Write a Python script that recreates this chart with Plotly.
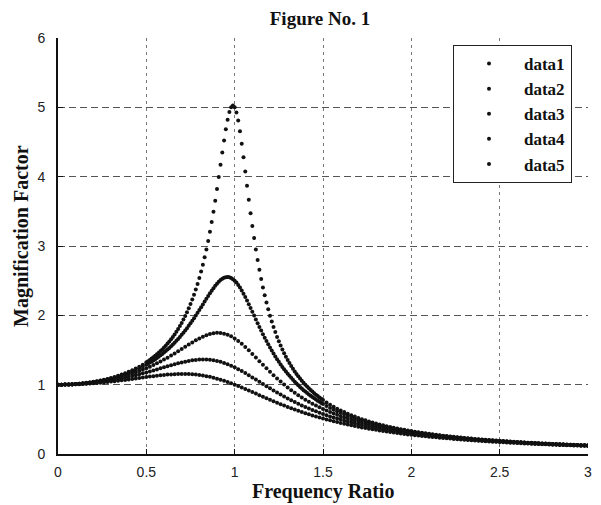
import plotly.graph_objects as go

# ---- sampling grids (frequency ratio) ----
ratio_fine = ([round(0.02 * i, 2) for i in range(26)]
              + [round(0.51 + 0.01 * i, 2) for i in range(100)]
              + [round(1.52 + 0.02 * i, 2) for i in range(75)])
ratio_coarse = [round(0.02 * i, 2) for i in range(151)]

# ---- magnification factor ----
data1 = [
    1.000, 1.000, 1.002, 1.004, 1.006, 1.010, 1.014, 1.020, 1.026, 1.033,
    1.041, 1.050, 1.060, 1.071, 1.083, 1.097, 1.111, 1.127, 1.145, 1.164,
    1.185, 1.208, 1.233, 1.260, 1.289, 1.322,
    1.339, 1.357, 1.376, 1.396, 1.416, 1.438, 1.461, 1.484, 1.509, 1.536,
    1.563, 1.592, 1.623, 1.655, 1.689, 1.725, 1.763, 1.803, 1.846, 1.891,
    1.939, 1.989, 2.043, 2.101, 2.162, 2.228, 2.298, 2.372, 2.452, 2.538,
    2.631, 2.730, 2.836, 2.950, 3.073, 3.204, 3.345, 3.495, 3.654, 3.821,
    3.994, 4.172, 4.350, 4.522, 4.683, 4.822, 4.931, 5.001, 5.025, 5.000,
    4.926, 4.809, 4.655, 4.476, 4.279, 4.075, 3.869, 3.668, 3.473, 3.288,
    3.114, 2.950, 2.798, 2.656, 2.525, 2.402, 2.289, 2.184, 2.086, 1.995,
    1.911, 1.832, 1.758, 1.689, 1.625, 1.564, 1.507, 1.454, 1.404, 1.356,
    1.311, 1.269, 1.229, 1.191, 1.155, 1.121, 1.088, 1.058, 1.028, 1.000,
    0.973, 0.948, 0.923, 0.900, 0.877, 0.856, 0.835, 0.815, 0.796, 0.778,
    0.743, 0.711, 0.682, 0.654, 0.628, 0.604, 0.581, 0.560, 0.540, 0.521,
    0.503, 0.486, 0.470, 0.455, 0.441, 0.427, 0.414, 0.402, 0.390, 0.379,
    0.369, 0.358, 0.349, 0.339, 0.330, 0.322, 0.314, 0.306, 0.298, 0.291,
    0.284, 0.277, 0.271, 0.265, 0.259, 0.253, 0.247, 0.242, 0.237, 0.232,
    0.227, 0.222, 0.218, 0.213, 0.209, 0.205, 0.201, 0.197, 0.193, 0.190,
    0.186, 0.183, 0.179, 0.176, 0.173, 0.170, 0.167, 0.164, 0.161, 0.158,
    0.156, 0.153, 0.151, 0.148, 0.146, 0.143, 0.141, 0.139, 0.137, 0.135,
    0.132, 0.130, 0.128, 0.127, 0.125,
]

data2 = [
    1.000, 1.000, 1.002, 1.003, 1.006, 1.009, 1.013, 1.018, 1.024, 1.031,
    1.038, 1.046, 1.056, 1.066, 1.077, 1.089, 1.103, 1.118, 1.133, 1.151,
    1.169, 1.190, 1.212, 1.235, 1.261, 1.288,
    1.303, 1.318, 1.334, 1.350, 1.367, 1.385, 1.403, 1.423, 1.442, 1.463,
    1.484, 1.507, 1.530, 1.554, 1.579, 1.605, 1.632, 1.660, 1.689, 1.719,
    1.750, 1.782, 1.815, 1.850, 1.885, 1.922, 1.959, 1.997, 2.036, 2.076,
    2.116, 2.157, 2.198, 2.238, 2.279, 2.318, 2.356, 2.392, 2.426, 2.457,
    2.484, 2.508, 2.527, 2.541, 2.549, 2.552, 2.548, 2.538, 2.522, 2.500,
    2.472, 2.439, 2.401, 2.359, 2.313, 2.264, 2.213, 2.160, 2.106, 2.051,
    1.996, 1.941, 1.887, 1.833, 1.780, 1.728, 1.678, 1.629, 1.582, 1.536,
    1.491, 1.448, 1.407, 1.367, 1.329, 1.292, 1.256, 1.222, 1.189, 1.157,
    1.127, 1.098, 1.070, 1.042, 1.016, 0.991, 0.967, 0.944, 0.921, 0.900,
    0.879, 0.859, 0.839, 0.821, 0.803, 0.785, 0.768, 0.752, 0.736, 0.721,
    0.692, 0.665, 0.640, 0.616, 0.593, 0.572, 0.552, 0.533, 0.515, 0.498,
    0.482, 0.466, 0.452, 0.438, 0.425, 0.412, 0.401, 0.389, 0.378, 0.368,
    0.358, 0.348, 0.339, 0.330, 0.322, 0.314, 0.306, 0.299, 0.292, 0.285,
    0.278, 0.272, 0.266, 0.260, 0.254, 0.248, 0.243, 0.238, 0.233, 0.228,
    0.223, 0.219, 0.214, 0.210, 0.206, 0.202, 0.198, 0.194, 0.191, 0.187,
    0.184, 0.180, 0.177, 0.174, 0.171, 0.168, 0.165, 0.162, 0.159, 0.157,
    0.154, 0.152, 0.149, 0.147, 0.144, 0.142, 0.140, 0.138, 0.135, 0.133,
    0.131, 0.129, 0.127, 0.125, 0.124,
]

data3 = [
    1.000, 1.000, 1.001, 1.003, 1.005, 1.008, 1.012, 1.016, 1.021, 1.027,
    1.034, 1.041, 1.049, 1.058, 1.067, 1.078, 1.089, 1.102, 1.115, 1.129,
    1.145, 1.161, 1.179, 1.197, 1.217, 1.238, 1.260, 1.284, 1.309, 1.335,
    1.362, 1.390, 1.420, 1.450, 1.482, 1.514, 1.546, 1.578, 1.609, 1.639,
    1.667, 1.692, 1.713, 1.730, 1.742, 1.747, 1.745, 1.736, 1.720, 1.697,
    1.667, 1.630, 1.589, 1.543, 1.495, 1.444, 1.392, 1.339, 1.287, 1.235,
    1.185, 1.136, 1.089, 1.044, 1.001, 0.960, 0.921, 0.884, 0.849, 0.816,
    0.784, 0.754, 0.726, 0.699, 0.673, 0.649, 0.626, 0.605, 0.584, 0.565,
    0.546, 0.528, 0.511, 0.495, 0.480, 0.466, 0.452, 0.438, 0.426, 0.414,
    0.402, 0.391, 0.380, 0.370, 0.360, 0.351, 0.342, 0.333, 0.325, 0.317,
    0.309, 0.302, 0.295, 0.288, 0.281, 0.275, 0.269, 0.263, 0.257, 0.252,
    0.246, 0.241, 0.236, 0.231, 0.226, 0.222, 0.217, 0.213, 0.209, 0.205,
    0.201, 0.197, 0.194, 0.190, 0.187, 0.183, 0.180, 0.177, 0.174, 0.171,
    0.168, 0.165, 0.162, 0.159, 0.157, 0.154, 0.151, 0.149, 0.147, 0.144,
    0.142, 0.140, 0.138, 0.135, 0.133, 0.131, 0.129, 0.127, 0.126, 0.124,
    0.122,
]

data4 = [
    1.000, 1.000, 1.001, 1.003, 1.004, 1.007, 1.010, 1.013, 1.018, 1.022,
    1.027, 1.033, 1.040, 1.047, 1.054, 1.063, 1.071, 1.081, 1.091, 1.101,
    1.112, 1.124, 1.137, 1.149, 1.163, 1.176, 1.191, 1.205, 1.220, 1.235,
    1.250, 1.265, 1.280, 1.294, 1.308, 1.320, 1.332, 1.342, 1.351, 1.357,
    1.362, 1.364, 1.363, 1.359, 1.353, 1.343, 1.330, 1.314, 1.295, 1.274,
    1.250, 1.224, 1.196, 1.167, 1.137, 1.105, 1.074, 1.042, 1.010, 0.978,
    0.947, 0.916, 0.886, 0.857, 0.829, 0.801, 0.775, 0.749, 0.724, 0.701,
    0.678, 0.656, 0.635, 0.615, 0.596, 0.577, 0.559, 0.542, 0.526, 0.511,
    0.496, 0.481, 0.467, 0.454, 0.442, 0.429, 0.418, 0.407, 0.396, 0.385,
    0.376, 0.366, 0.357, 0.348, 0.339, 0.331, 0.323, 0.316, 0.308, 0.301,
    0.294, 0.287, 0.281, 0.275, 0.269, 0.263, 0.257, 0.252, 0.247, 0.242,
    0.237, 0.232, 0.227, 0.223, 0.218, 0.214, 0.210, 0.206, 0.202, 0.198,
    0.195, 0.191, 0.188, 0.184, 0.181, 0.178, 0.175, 0.172, 0.169, 0.166,
    0.163, 0.161, 0.158, 0.155, 0.153, 0.150, 0.148, 0.146, 0.143, 0.141,
    0.139, 0.137, 0.135, 0.133, 0.131, 0.129, 0.127, 0.125, 0.123, 0.121,
    0.120,
]

data5 = [
    1.000, 1.000, 1.001, 1.002, 1.003, 1.005, 1.007, 1.010, 1.013, 1.016,
    1.020, 1.024, 1.028, 1.033, 1.038, 1.044, 1.049, 1.055, 1.062, 1.068,
    1.075, 1.082, 1.089, 1.096, 1.103, 1.109, 1.116, 1.123, 1.129, 1.135,
    1.140, 1.145, 1.148, 1.152, 1.154, 1.155, 1.154, 1.153, 1.150, 1.146,
    1.140, 1.132, 1.123, 1.113, 1.101, 1.087, 1.072, 1.056, 1.038, 1.020,
    1.000, 0.980, 0.959, 0.937, 0.915, 0.893, 0.871, 0.848, 0.826, 0.804,
    0.782, 0.761, 0.740, 0.719, 0.699, 0.679, 0.660, 0.642, 0.624, 0.606,
    0.589, 0.573, 0.557, 0.541, 0.527, 0.512, 0.498, 0.485, 0.472, 0.460,
    0.448, 0.436, 0.425, 0.414, 0.403, 0.393, 0.384, 0.374, 0.365, 0.356,
    0.348, 0.340, 0.332, 0.324, 0.317, 0.310, 0.303, 0.296, 0.290, 0.283,
    0.277, 0.271, 0.266, 0.260, 0.255, 0.250, 0.245, 0.240, 0.235, 0.230,
    0.226, 0.222, 0.217, 0.213, 0.209, 0.205, 0.202, 0.198, 0.194, 0.191,
    0.188, 0.184, 0.181, 0.178, 0.175, 0.172, 0.169, 0.166, 0.164, 0.161,
    0.158, 0.156, 0.153, 0.151, 0.148, 0.146, 0.144, 0.142, 0.139, 0.137,
    0.135, 0.133, 0.131, 0.129, 0.128, 0.126, 0.124, 0.122, 0.120, 0.119,
    0.117,
]

series_names = ["data1", "data2", "data3", "data4", "data5"]
x_ticks = [0, 0.5, 1, 1.5, 2, 2.5, 3]
x_tick_labels = ["0", "0.5", "1", "1.5", "2", "2.5", "3"]
y_ticks = [0, 1, 2, 3, 4, 5, 6]

assert len(data1) == len(ratio_fine) and len(data2) == len(ratio_fine)
for d in (data3, data4, data5):
    assert len(d) == len(ratio_coarse)

SERIF = "Liberation Serif"
SANS = "Liberation Sans"

# The page body has an 8px margin, so the figure is drawn 8px smaller
# and every pixel position is given in figure coordinates (page - 8).
W, H = 593, 497
L, R, T, B = 50, 13, 30, 51
PW, PH = W - L - R, H - T - B

fig = go.Figure()
pairs = [(ratio_fine, data1), (ratio_fine, data2), (ratio_coarse, data3),
         (ratio_coarse, data4), (ratio_coarse, data5)]
for name, (xs, ys) in zip(series_names, pairs):
    fig.add_trace(go.Scatter(
        x=xs, y=ys, mode="markers", name=name, legendgroup=name,
        marker=dict(size=4, color="#111111", line=dict(width=0)),
    ))

fig.update_layout(
    width=W, height=H,
    margin=dict(l=L, r=R, t=T, b=B, autoexpand=False),
    paper_bgcolor="white", plot_bgcolor="white",
    showlegend=True,
    title=dict(text="<b>Figure No. 1</b>", x=(312 - L) / PW, xref="paper", xanchor="center",
               y=1 - 10 / H, yref="container", yanchor="middle",
               font=dict(family=SERIF, size=19, color="#111")),
    legend=dict(x=(445 - L) / PW, xanchor="left", y=(H - B - 37) / PH, yanchor="top",
                bgcolor="white", bordercolor="#222", borderwidth=1,
                font=dict(family=SERIF, size=17, color="#111", weight="bold"),
                tracegroupgap=0, itemwidth=60),
    xaxis=dict(range=[0, 3], tickvals=x_ticks, ticktext=x_tick_labels,
               showline=True, linecolor="#111", linewidth=2, mirror=False,
               ticks="inside", ticklen=5, tickcolor="#111",
               showgrid=True, gridcolor="#777", griddash="3px,4px", gridwidth=1,
               zeroline=False, ticklabelstandoff=4,
               tickfont=dict(family=SANS, size=14, color="#222")),
    yaxis=dict(range=[0, 6], tickvals=y_ticks,
               showline=True, linecolor="#111", linewidth=2, mirror=False,
               ticks="inside", ticklen=5, tickcolor="#111",
               showgrid=True, gridcolor="#555", griddash="7px,4px", gridwidth=1,
               zeroline=False, ticklabelstandoff=8,
               tickfont=dict(family=SANS, size=14, color="#222")),
    annotations=[
        dict(text="<b>Frequency Ratio</b>", xref="paper", yref="paper",
             x=(315 - L) / PW, y=(H - B - 484) / PH, xanchor="center", yanchor="middle",
             showarrow=False, font=dict(family=SERIF, size=20, color="#111")),
        dict(text="<b>Magnification Factor</b>", xref="paper", yref="paper",
             x=(13 - L) / PW, y=(H - B - 228) / PH, xanchor="center", yanchor="middle",
             textangle=-90, showarrow=False,
             font=dict(family=SERIF, size=20, color="#111")),
    ],
)

fig.write_html("out.html")
